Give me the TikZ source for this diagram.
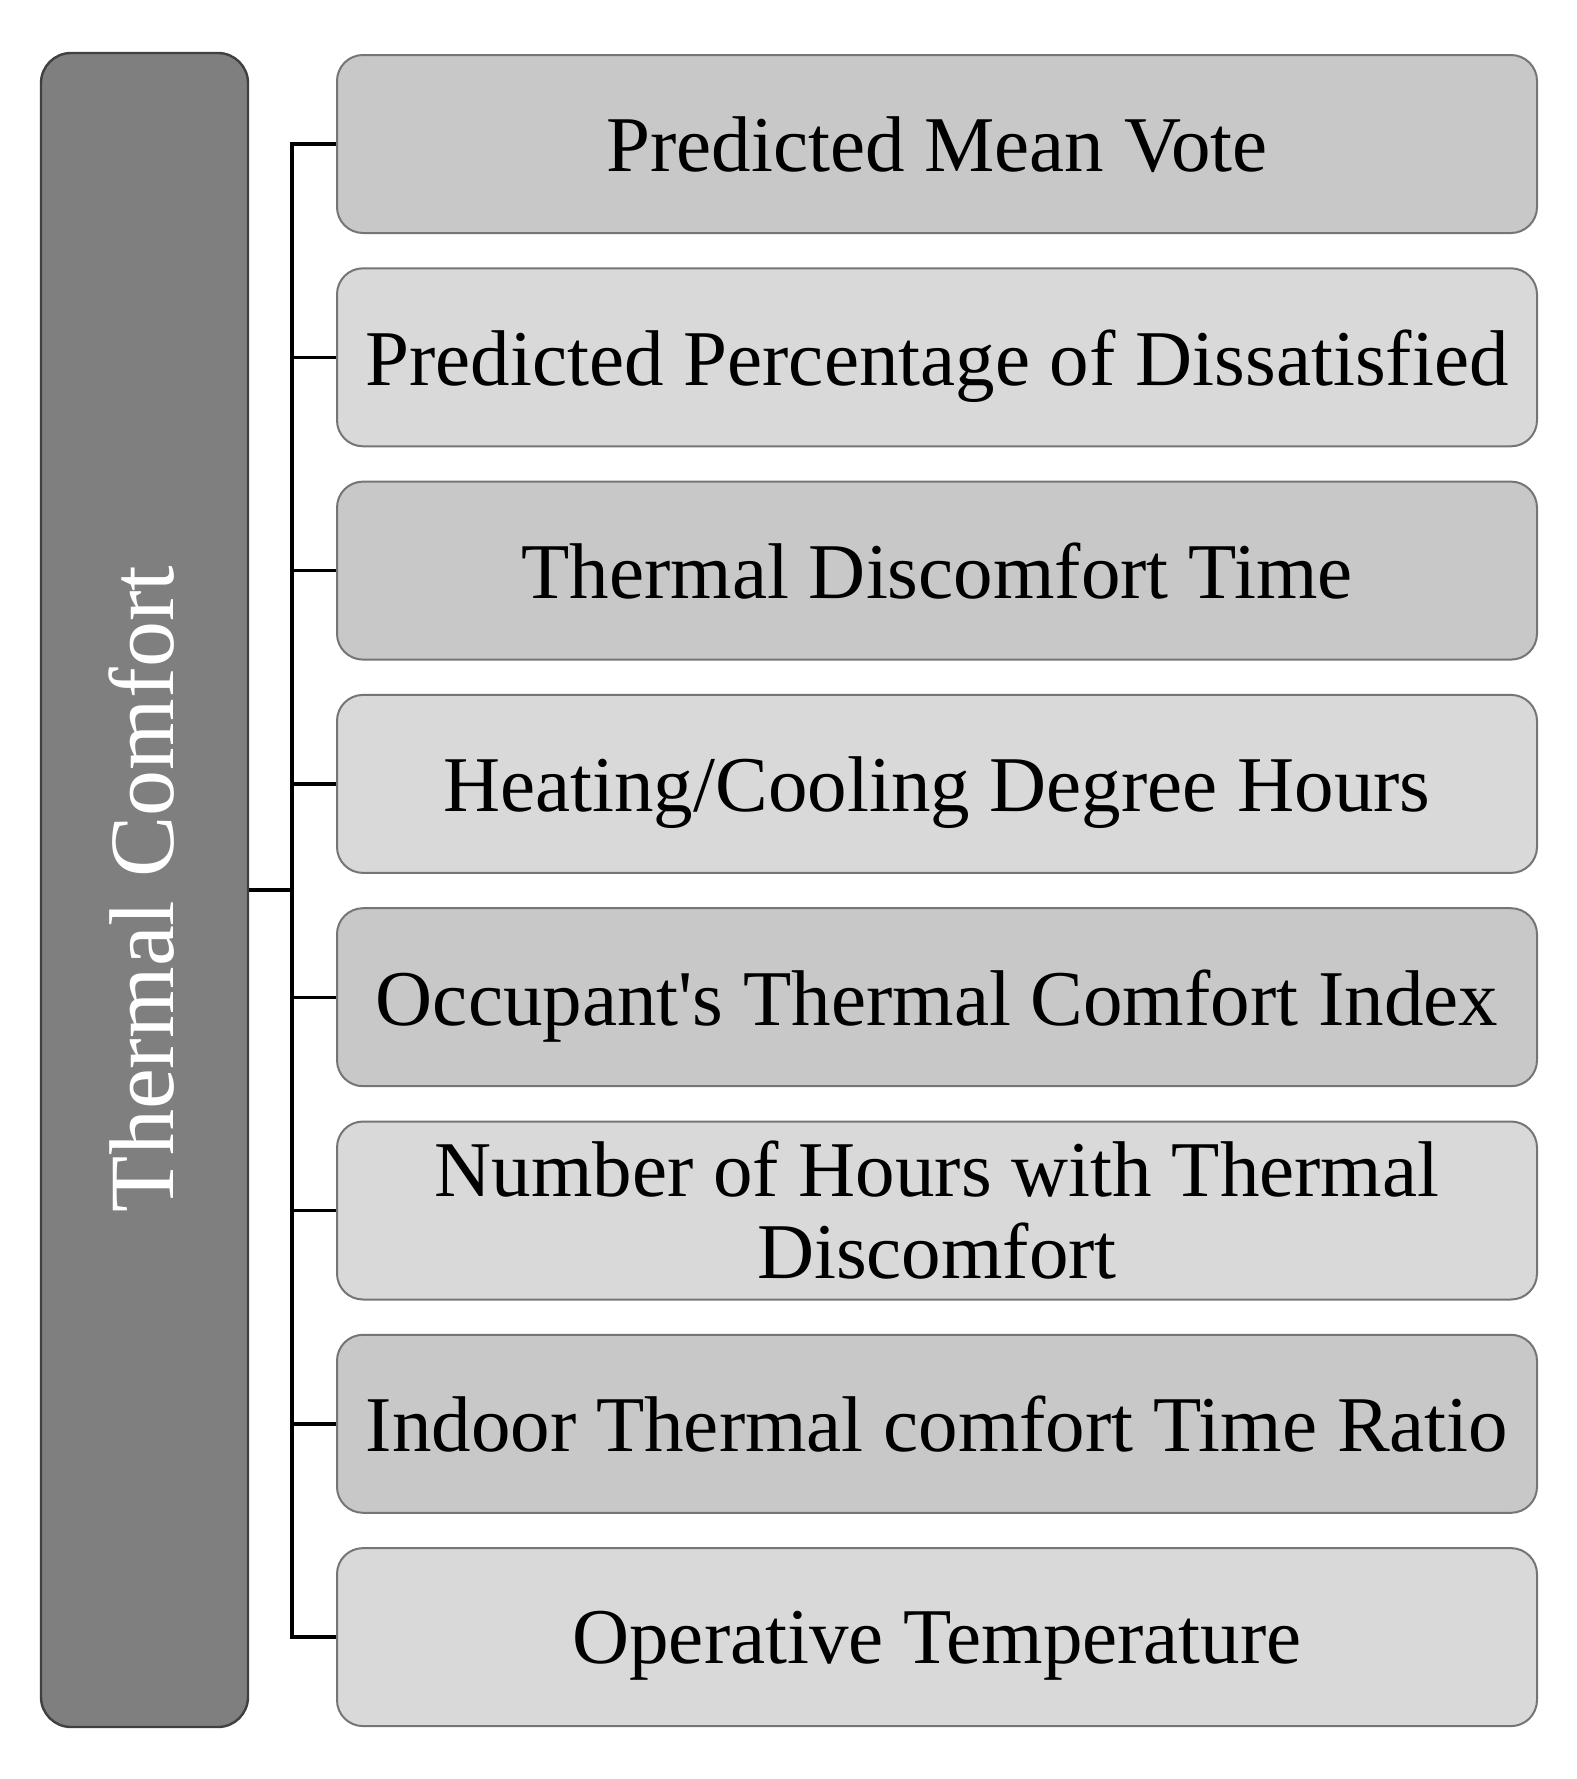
\documentclass[tikz,border=0pt]{standalone}
\usepackage{fontspec}
\setmainfont{Liberation Serif}[Ligatures=TeXOff]
\definecolor{leftfill}{HTML}{7F7F7F}
\definecolor{darkfill}{HTML}{C8C8C8}
\definecolor{lightfill}{HTML}{D9D9D9}
\definecolor{boxline}{HTML}{757575}
\begin{document}
\begin{tikzpicture}[x=0.5pt,y=-0.5pt,
  mainbox/.style={draw=black!75, line width=1.2pt, fill=leftfill, rounded corners=15pt,
    minimum width=103.5pt, minimum height=837pt, inner sep=0pt},
  itembox/.style={draw=boxline, line width=1pt, rounded corners=13pt,
    minimum width=600pt, minimum height=89pt, inner sep=0pt, align=center,
    font=\fontsize{39.5}{41}\selectfont},
  oneline/.style={text depth=0pt},
  darkbox/.style={itembox, fill=darkfill},
  lightbox/.style={itembox, fill=lightfill},
  conn/.style={line width=1.7pt, black}]
\useasboundingbox (0,0) rectangle (1577,1779);
\node[mainbox] (main) at (144.5,890) {};
\node[rotate=90, text=white, font=\fontsize{46}{48}\selectfont] (maintext) at (142,889) {Thermal Comfort};
\node[darkbox, oneline]  (b1) at (937,144.0)  {Predicted Mean Vote};
\node[lightbox, oneline] (b2) at (937,357.3)  {Predicted Percentage of Dissatisfied};
\node[darkbox, oneline]  (b3) at (937,570.6)  {Thermal Discomfort Time};
\node[lightbox, oneline] (b4) at (937,783.9)  {Heating/Cooling Degree Hours};
\node[darkbox, oneline]  (b5) at (937,997.2)  {Occupant's Thermal Comfort Index};
\node[lightbox] (b6) at (937,1210.5) {Number of Hours with Thermal\\Discomfort};
\node[darkbox, oneline]  (b7) at (937,1423.8) {Indoor Thermal comfort Time Ratio};
\node[lightbox, oneline] (b8) at (937,1637.1) {Operative Temperature};
\coordinate (trunk) at (292,890);
\draw[conn] (main.east) -- (trunk);
\draw[conn] (b1.west) -- (b1.west -| trunk) -- (b8.west -| trunk) -- (b8.west);
\foreach \i in {2,...,7} {\draw[conn] (b\i.west -| trunk) -- (b\i.west);}
\end{tikzpicture}
\end{document}
